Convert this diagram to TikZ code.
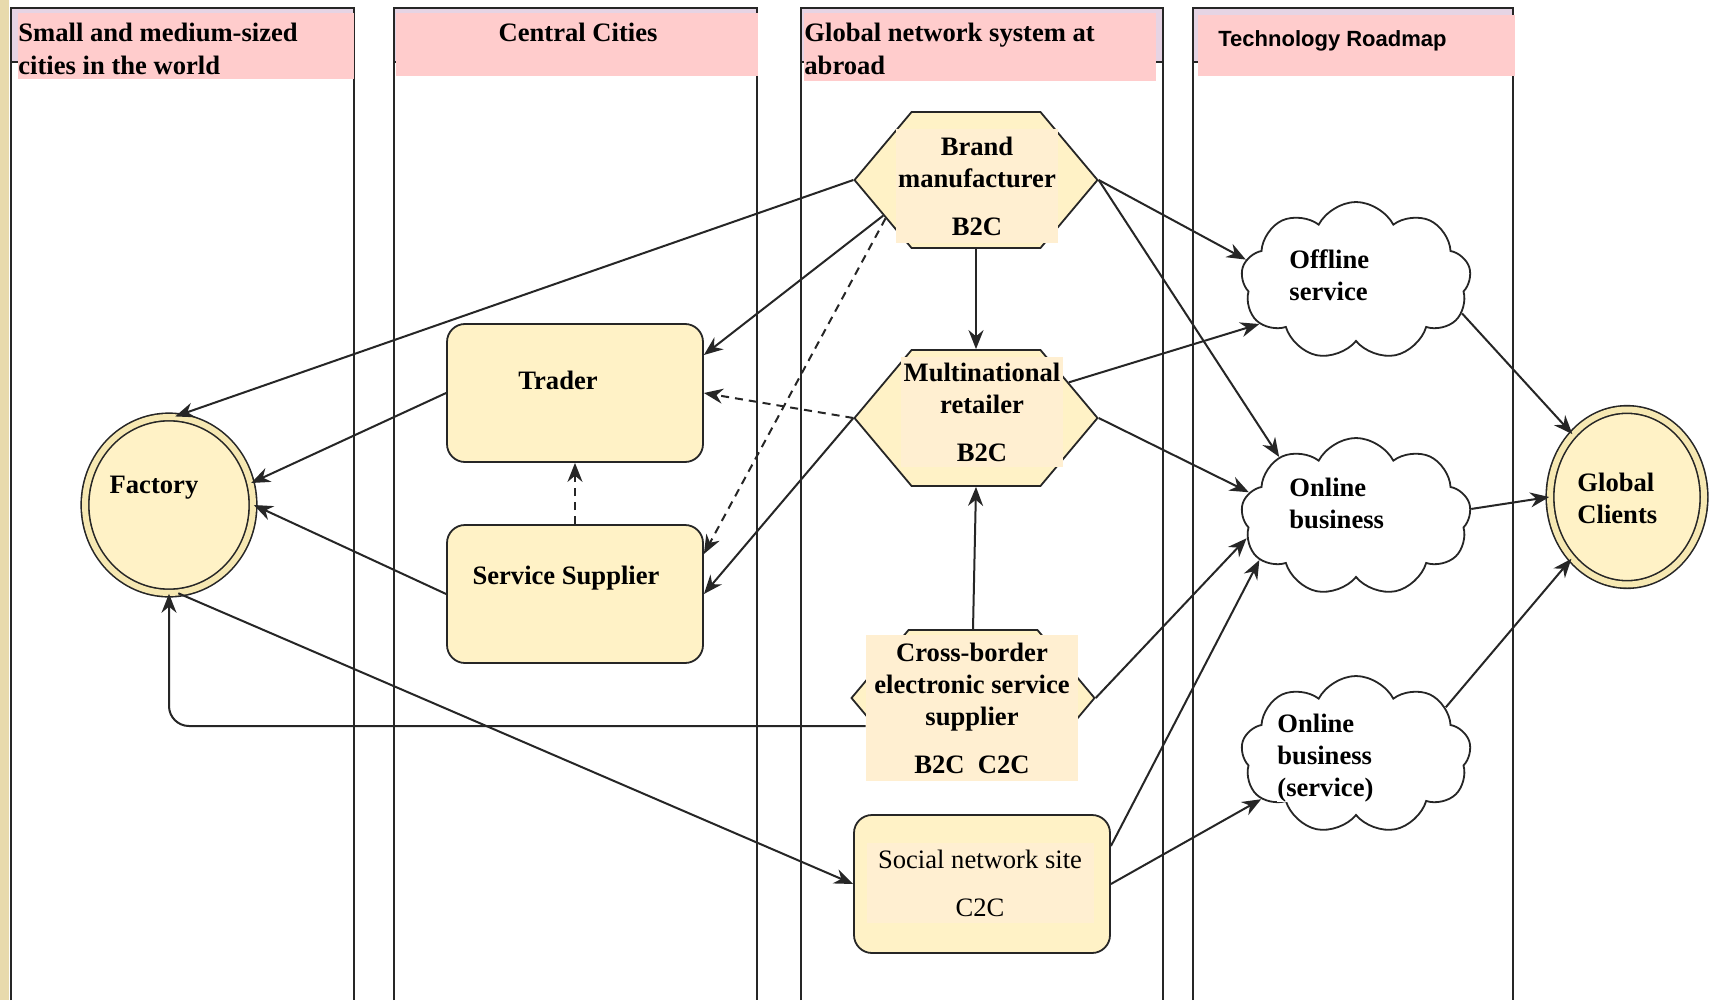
\documentclass[tikz,border=0pt]{standalone}
\usepackage{fontspec}
\setmainfont{Liberation Serif}
\newfontfamily\arialfont{Liberation Sans}
\usetikzlibrary{shapes.geometric,shapes.symbols,arrows.meta}
\definecolor{hdrpink}{RGB}{255,204,204}
\definecolor{hdrlav}{RGB}{230,212,228}
\definecolor{shapecol}{RGB}{255,242,198}
\definecolor{boxcol}{RGB}{255,239,209}
\definecolor{ringcol}{RGB}{246,232,178}
\definecolor{framecol}{RGB}{232,218,172}
\colorlet{linecol}{black!85}

\begin{document}
\begin{tikzpicture}[x=0.5pt, y=-0.5pt,
	every node/.style={font=\fontsize{13.3}{16}\selectfont\bfseries, inner sep=0pt},
	lane/.style={draw=linecol, line width=1pt},
	outl/.style={draw=linecol, line width=0.9pt},
	hexa/.style={outl, signal, signal to=west and east, signal pointer angle=100, fill=shapecol, minimum width=121.5pt, minimum height=68pt},
	procbox/.style={outl, fill=shapecol, rounded corners=9pt, minimum width=128pt, minimum height=69pt},
	ring/.style={ellipse, draw=linecol, line width=0.8pt, double=ringcol, double distance=3pt, fill=shapecol},
	cloudy/.style={cloud, cloud puffs=9, cloud puff arc=125, cloud ignores aspect, outl, fill=white, minimum width=115pt, minimum height=79pt},
	lbl/.style={fill=boxcol, align=center},
	txt/.style={align=left, anchor=west},
	hdr/.style={anchor=north west, align=left, font=\fontsize{13.3}{16.5}\selectfont\bfseries},
	arr/.style={-{Stealth[length=9.5pt,width=7.5pt]}, draw=linecol, line width=1pt},
	dasharr/.style={arr, dash pattern=on 4pt off 3pt}]

	\fill[white] (0,0) rectangle (1711,1000);
	\useasboundingbox (0,0) rectangle (1711,1000);
	\fill[framecol] (0,0) rectangle (9,1000);

	% swimlanes
	\foreach \xa/\xb in {11/354, 394/757, 801/1163, 1193/1513} {
		\fill[hdrlav] (\xa,8) rectangle (\xb,62);
		\draw[lane] (\xa,1000) -- (\xa,8) -- (\xb,8) -- (\xb,1000);
		\draw[lane] (\xa,62) -- (\xb,62);
	}
	\fill[hdrpink] (18,13) rectangle (354,79);
	\fill[hdrpink] (396,13) rectangle (758,76);
	\fill[hdrpink] (804,13) rectangle (1156,81);
	\fill[hdrpink] (1198,15) rectangle (1515,76);
	\node[hdr] (lane1) at (18,23) {Small and medium-sized\\cities in the world};
	\node[hdr, anchor=north] (lane2) at (578,23) {Central Cities};
	\node[hdr] (lane3) at (804,23) {Global network system at\\abroad};
	\node[hdr, font=\arialfont\fontsize{11}{13}\selectfont\bfseries] (lane4) at (1218,30) {Technology Roadmap};

	% nodes
	\node[ring, minimum width=84pt, minimum height=88pt] (factory) at (169,505) {};
	\node (factorytxt) at (154,488) {Factory};
	\node[procbox] (trader) at (575,393) {};
	\node (tradertxt) at (558,380) {Trader};
	\node[procbox] (supplier) at (575,594) {};
	\node (suppliertxt) at (566,578) {Service Supplier};

	\node[hexa] (brand) at (976,180) {};
	\node[lbl, minimum width=81pt, minimum height=56.5pt] (brandtxt) at (977,186) {Brand\\manufacturer\\[8pt]B2C};
	\node[hexa] (retailer) at (976,418) {};
	\node[lbl, minimum width=81pt, minimum height=55pt] (retailertxt) at (982,412) {Multinational\\retailer\\[8pt]B2C};
	\node[hexa] (crossb) at (973,698) {};
	\node[lbl, minimum width=106pt, minimum height=73pt] (crossbtxt) at (972,708) {Cross-border\\electronic service\\supplier\\[8pt]B2C~~C2C};
	\node[procbox] (social) at (982,884) {};
	\node[lbl, font=\fontsize{13.3}{16}\selectfont\mdseries, minimum width=113.5pt, minimum height=40pt] (socialtxt) at (980,883) {Social network site\\[8pt]C2C};

	\node[cloudy] (offline) at (1356,281) {};
	\node[txt] (offlinetxt) at (1289,275) {Offline\\service};
	\node[cloudy] (online) at (1356,517) {};
	\node[txt] (onlinetxt) at (1289,503) {Online\\business};
	\node[cloudy] (onlinesvc) at (1356,755) {};
	\node[txt, fill=white] (onlinesvctxt) at (1277,758) {Online\\business\\(service)};
	\node[ring, minimum width=77pt, minimum height=87.5pt] (clients) at (1627,497) {};
	\node[txt] (clientstxt) at (1577,498) {Global\\Clients};

	% connectors
	\draw[arr] (brand.west) -- (factory.86);
	\draw[arr] (trader.west) -- (factory.15);
	\draw[arr] (supplier.west) -- (factory.east);
	\draw[arr, rounded corners=10pt] ([yshift=-9pt]crossbtxt.west) -| (factory.south);
	\draw[arr] (brand.201) -- ([yshift=19pt]trader.east);
	\draw[dasharr] (brand.203) -- ([yshift=20pt]supplier.east);
	\draw[dasharr] (retailer.west) -- (trader.east);
	\draw[arr] (retailer.west) -- (supplier.east);
	\draw[dasharr] (supplier.north) -- (trader.south);
	\draw[arr] (brand.south) -- (retailer.north);
	\draw[arr] (brand.east) -- (offline.169);
	\draw[arr] (brand.east) -- (online.142);
	\draw[arr] (retailer.21) -- (offline.204);
	\draw[arr] (retailer.east) -- (online.167);
	\draw[arr] (crossb.north) -- (retailer.south);
	\draw[arr] (crossb.east) -- (online.191);
	\draw[arr] ([yshift=19pt]social.east) -- (online.204);
	\draw[arr] (social.east) -- (onlinesvc.205);
	\draw[arr] (factory.-84) -- (social.west);
	\draw[arr] (offline.-17) -- (clients.131);
	\draw[arr] (online.4) -- (clients.west);
	\draw[arr] (onlinesvc.28) -- (clients.228);
\end{tikzpicture}
\end{document}
